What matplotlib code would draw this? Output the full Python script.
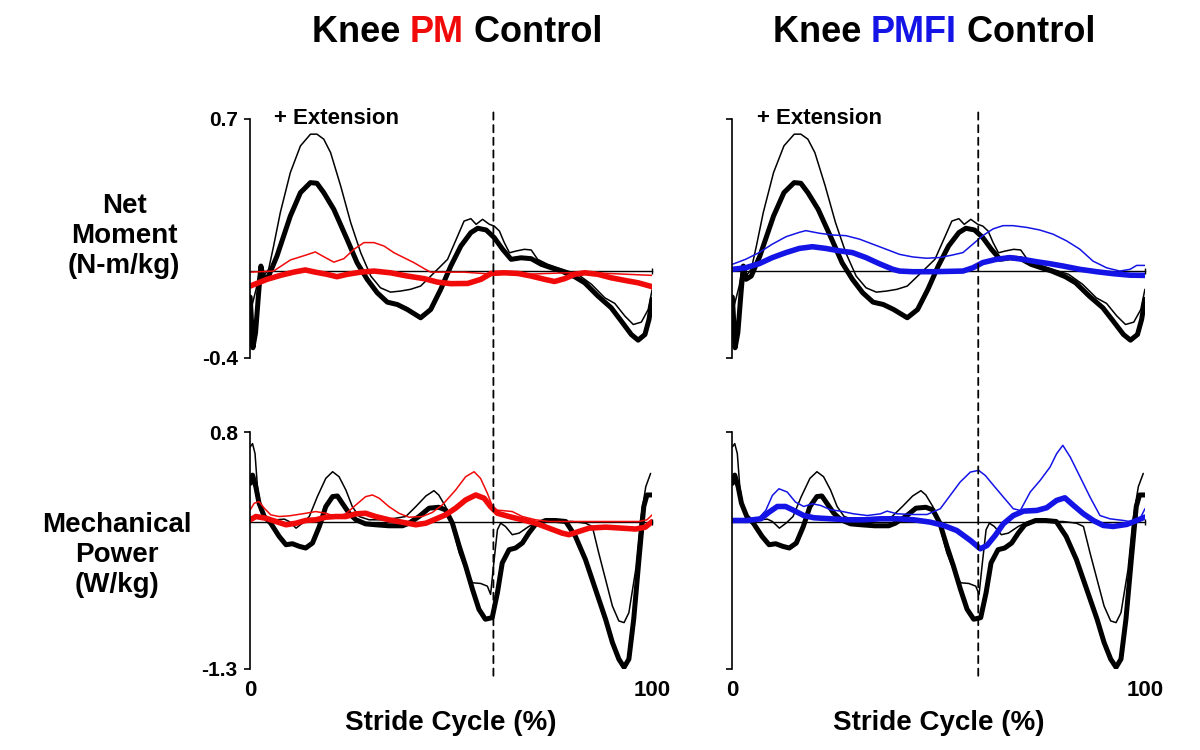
import matplotlib
matplotlib.use("Agg")
import matplotlib.pyplot as plt
from matplotlib.patches import ConnectionPatch

plt.rcParams['font.family'] = ['Liberation Sans', 'DejaVu Sans']
plt.rcParams['font.weight'] = 'bold'
plt.rcParams['lines.solid_joinstyle'] = 'round'
plt.rcParams['lines.solid_capstyle'] = 'round'

# ---- data ----
# control, net moment (N-m/kg), thick and thin traces
ctrl_mom_thick_x = [0, 0.17, 0.67, 1.33, 2.1, 2.66, 3.33, 4.58, 6.66, 9.98, 12.5, 14.98, 16.6, 18.3, 20.8,
                    24.1, 26.6, 29.1, 31.6, 34.1, 36.6, 39.1, 42.4, 44.9, 47.4, 49.9, 52.4, 54.9, 56.6, 58.7,
                    60.7, 62.8, 64.9, 67.4, 69.9, 72.4, 74.9, 77.4, 80.7, 83.2, 86.5, 89.8, 92.3, 94.8, 96.5,
                    98.2, 99.2, 100]
ctrl_mom_thick_y = [-0.12, -0.177, -0.353, -0.284, -0.10, 0.023, -0.038, -0.023, 0.069, 0.253, 0.361, 0.407,
                    0.404, 0.361, 0.284, 0.146, 0.038, -0.038, -0.10, -0.143, -0.154, -0.177, -0.215, -0.177,
                    -0.084, 0.023, 0.115, 0.177, 0.197, 0.189, 0.154, 0.10, 0.054, 0.061, 0.057, 0.031, 0.015,
                    0.0, -0.026, -0.054, -0.115, -0.169, -0.230, -0.292, -0.318, -0.292, -0.223, -0.13]
ctrl_mom_thin_x = [0, 0.42, 1.66, 2.5, 3.33, 4.58, 5.82, 7.49, 9.98, 12.5, 15.0, 16.6, 18.3, 20.0, 22.5, 25.0,
                   27.5, 30.0, 32.4, 34.9, 37.4, 39.9, 42.4, 44.1, 46.6, 49.1, 51.6, 53.2, 54.9, 56.2, 57.8,
                   59.5, 60.7, 62.0, 63.2, 64.5, 66.1, 68.2, 69.9, 71.5, 74.0, 76.5, 79.0, 81.5, 84.9, 88.2,
                   90.7, 93.2, 95.3, 97.3, 99.0, 100]
ctrl_mom_thin_y = [-0.12, -0.161, -0.069, 0.023, -0.023, 0.008, 0.115, 0.269, 0.453, 0.576, 0.630, 0.630,
                   0.607, 0.545, 0.392, 0.223, 0.084, -0.023, -0.077, -0.097, -0.092, -0.084, -0.069, -0.038,
                   0.008, 0.054, 0.161, 0.230, 0.241, 0.215, 0.238, 0.215, 0.207, 0.184, 0.131, 0.084, 0.092,
                   0.10, 0.097, 0.054, 0.031, 0.015, 0.0, -0.015, -0.061, -0.123, -0.149, -0.207, -0.246,
                   -0.235, -0.177, -0.084]

# PM, net moment
pm_mom_thick_x = [0, 4.2, 7.5, 10.8, 13.7, 16.2, 19.1, 21.6, 24.1, 27.5, 30.8, 34.9, 39.1, 43.3, 46.6, 49.9,
                  54.1, 57.4, 59.9, 63.2, 66.6, 69.9, 73.2, 75.7, 78.2, 80.7, 83.2, 86.5, 89.8, 93.2, 96.5, 100]
pm_mom_thick_y = [-0.069, -0.038, -0.02, -0.005, 0.005, -0.005, -0.015, -0.026, -0.015, -0.005, 0.0, -0.008,
                  -0.023, -0.035, -0.051, -0.058, -0.057, -0.038, -0.011, -0.008, -0.011, -0.023, -0.038,
                  -0.048, -0.035, -0.015, -0.008, -0.015, -0.031, -0.043, -0.054, -0.072]
pm_mom_thin_x = [0, 5.8, 10.0, 14.1, 16.2, 18.3, 20.8, 23.3, 25.8, 28.3, 30.8, 33.3, 35.8, 38.3, 40.8, 43.3,
                 44.9, 53.2, 59.9, 68.2, 83.2, 89.0, 100]
pm_mom_thin_y = [-0.005, 0.0, 0.051, 0.075, 0.088, 0.066, 0.041, 0.057, 0.10, 0.131, 0.131, 0.115, 0.084,
                 0.061, 0.038, 0.011, -0.005, -0.005, -0.014, -0.015, -0.005, -0.011, -0.02]

# PMFI, net moment
pmfi_mom_thick_x = [0, 3.2, 6.5, 9.7, 13.0, 16.2, 19.4, 22.7, 25.9, 29.1, 32.4, 35.6, 38.9, 40.5, 43.7, 48.6,
                    55.9, 58.3, 60.7, 64.0, 67.2, 70.4, 73.7, 76.9, 80.2, 84.2, 88.3, 92.3, 96.4, 100]
pmfi_mom_thick_y = [0.008, 0.015, 0.034, 0.062, 0.085, 0.104, 0.112, 0.104, 0.093, 0.085, 0.062, 0.034, 0.008,
                    0.0, -0.003, -0.003, 0.0, 0.015, 0.039, 0.054, 0.062, 0.054, 0.043, 0.034, 0.023, 0.008,
                    -0.003, -0.012, -0.019, -0.020]
pmfi_mom_thin_x = [0, 3.2, 6.5, 9.7, 13.0, 16.2, 17.8, 21.1, 24.3, 27.5, 30.8, 34.0, 37.2, 40.5, 43.7, 47.0,
                   50.2, 53.4, 55.9, 58.3, 60.7, 63.2, 65.6, 68.0, 71.3, 74.5, 77.7, 81.0, 84.2, 87.4, 90.7,
                   93.9, 96.4, 98.0, 100]
pmfi_mom_thin_y = [0.031, 0.054, 0.085, 0.124, 0.158, 0.178, 0.186, 0.174, 0.166, 0.163, 0.147, 0.124, 0.101,
                   0.077, 0.065, 0.059, 0.062, 0.074, 0.085, 0.124, 0.163, 0.194, 0.209, 0.209, 0.201, 0.189,
                   0.170, 0.139, 0.101, 0.046, 0.015, 0.0, 0.008, 0.026, 0.026]

# control, mechanical power (W/kg)
ctrl_pow_thick_x = [0, 0.58, 1.4, 2.2, 3.5, 5.1, 7.2, 8.9, 10.5, 12.2, 13.8, 15.5, 17.2, 18.8, 20.5, 21.7,
                    22.9, 24.6, 26.3, 28.7, 31.2, 34.5, 37.9, 39.5, 42.0, 44.5, 46.9, 48.6, 50.3, 52.0, 53.6,
                    55.3, 56.9, 58.5, 60.2, 61.5, 62.7, 64.4, 66.0, 67.7, 69.3, 70.9, 73.5, 75.9, 78.5, 80.9,
                    83.4, 85.9, 88.4, 90.1, 91.7, 93.0, 94.2, 95.4, 96.7, 97.9, 98.7, 100]
ctrl_pow_thick_y = [0.345, 0.418, 0.315, 0.169, 0.051, -0.008, -0.125, -0.199, -0.190, -0.213, -0.228, -0.184,
                    -0.037, 0.139, 0.228, 0.233, 0.169, 0.080, 0.022, -0.014, -0.022, -0.031, -0.031, -0.008,
                    0.051, 0.125, 0.133, 0.110, -0.008, -0.213, -0.389, -0.595, -0.771, -0.859, -0.845, -0.624,
                    -0.360, -0.243, -0.228, -0.184, -0.096, -0.022, 0.016, 0.016, 0.007, -0.125, -0.331,
                    -0.595, -0.859, -1.065, -1.212, -1.285, -1.212, -0.859, -0.331, 0.139, 0.242, 0.242]
ctrl_pow_thin_x = [0, 0.58, 1.2, 1.8, 2.7, 4.3, 6.4, 8.5, 9.7, 11.4, 13.0, 14.7, 16.7, 18.8, 20.5, 22.1, 23.8,
                   25.4, 27.1, 29.6, 32.9, 36.2, 38.7, 41.2, 43.7, 45.7, 46.9, 48.6, 50.3, 52.0, 53.6, 55.3,
                   57.3, 59.0, 59.8, 60.6, 61.5, 62.3, 63.5, 65.2, 66.9, 69.3, 71.8, 76.0, 80.1, 83.4, 85.1,
                   86.7, 88.4, 90.1, 91.7, 93.0, 94.2, 95.9, 97.1, 98.4, 99.6]
ctrl_pow_thin_y = [0.668, 0.697, 0.609, 0.315, 0.110, 0.022, 0.022, 0.028, 0.007, -0.052, -0.008, 0.051, 0.227,
                   0.389, 0.448, 0.404, 0.286, 0.139, 0.051, 0.022, 0.022, 0.036, 0.051, 0.139, 0.233, 0.280,
                   0.242, 0.139, -0.037, -0.272, -0.419, -0.536, -0.542, -0.566, -0.639, -0.360, -0.066,
                   -0.008, -0.037, -0.110, -0.096, -0.037, 0.007, 0.007, 0.007, -0.008, -0.037, -0.272,
                   -0.507, -0.742, -0.874, -0.889, -0.801, -0.419, 0.022, 0.315, 0.433]

# PM, mechanical power
pm_pow_thick_x = [0, 1.4, 3.9, 6.4, 8.9, 11.4, 13.8, 16.3, 18.8, 21.3, 23.8, 26.3, 28.7, 31.2, 34.5, 37.9,
                  41.2, 43.7, 46.1, 48.6, 51.1, 53.6, 56.1, 58.2, 59.8, 61.5, 64.4, 67.7, 71.0, 74.3, 77.6,
                  79.3, 81.8, 84.3, 88.4, 92.5, 95.9, 98.3, 100]
pm_pow_thick_y = [0.022, 0.051, 0.036, 0.007, -0.022, -0.008, 0.016, 0.022, 0.045, 0.051, 0.051, 0.075, 0.080,
                  0.051, 0.022, 0.0, -0.022, -0.008, 0.028, 0.066, 0.125, 0.198, 0.242, 0.213, 0.139, 0.080,
                  0.051, 0.022, -0.008, -0.052, -0.096, -0.110, -0.081, -0.052, -0.043, -0.052, -0.060,
                  -0.043, 0.007]
pm_pow_thin_x = [0, 1.0, 2.2, 3.5, 5.1, 7.2, 9.7, 13.0, 16.3, 18.8, 21.3, 23.8, 26.3, 28.7, 30.4, 32.1, 34.5,
                 37.0, 39.5, 42.8, 45.3, 47.8, 51.1, 53.6, 55.7, 57.3, 59.0, 60.6, 62.7, 65.2, 67.7, 71.0,
                 74.3, 80.1, 88.4, 96.7, 98.7, 100]
pm_pow_thin_y = [0.110, 0.169, 0.183, 0.125, 0.066, 0.051, 0.057, 0.075, 0.095, 0.080, 0.051, 0.075, 0.154,
                 0.227, 0.242, 0.213, 0.139, 0.080, 0.045, 0.051, 0.087, 0.154, 0.286, 0.404, 0.448, 0.389,
                 0.257, 0.110, 0.104, 0.095, 0.051, 0.022, 0.007, 0.007, 0.007, 0.007, 0.022, 0.066]

# PMFI, mechanical power
pmfi_pow_thick_x = [0, 3.6, 6.9, 8.9, 10.9, 12.9, 14.9, 17.3, 19.8, 23.8, 27.8, 31.9, 35.9, 39.9, 44.0, 48.0,
                    51.2, 54.4, 57.7, 60.1, 61.7, 63.7, 65.7, 68.1, 70.6, 73.8, 76.2, 78.6, 80.6, 82.7, 85.1,
                    87.5, 89.9, 92.3, 95.6, 98.0, 100]
pmfi_pow_thick_y = [0.016, 0.016, 0.031, 0.090, 0.140, 0.140, 0.105, 0.060, 0.040, 0.031, 0.022, 0.022, 0.031,
                    0.031, 0.022, 0.001, -0.028, -0.073, -0.161, -0.235, -0.206, -0.117, -0.013, 0.060, 0.099,
                    0.105, 0.129, 0.194, 0.217, 0.149, 0.075, 0.016, -0.028, -0.037, -0.019, 0.016, 0.046]
pmfi_pow_thin_x = [0, 3.6, 6.0, 8.1, 9.7, 11.3, 13.3, 15.3, 17.3, 19.4, 21.4, 23.8, 26.2, 29.4, 32.7, 35.9,
                   37.5, 39.9, 44.0, 47.2, 50.4, 52.8, 55.2, 57.7, 59.7, 61.3, 63.3, 65.7, 68.1, 69.8, 72.2,
                   74.6, 77.0, 78.6, 80.1, 81.9, 84.3, 86.7, 89.1, 91.5, 94.8, 97.2, 98.8, 100]
pmfi_pow_thin_y = [0.016, 0.016, 0.022, 0.105, 0.238, 0.297, 0.268, 0.179, 0.140, 0.164, 0.149, 0.111, 0.099,
                   0.075, 0.060, 0.075, 0.099, 0.075, 0.069, 0.069, 0.120, 0.238, 0.356, 0.445, 0.460, 0.415,
                   0.327, 0.223, 0.120, 0.105, 0.268, 0.371, 0.489, 0.608, 0.682, 0.578, 0.401, 0.223, 0.060,
                   0.031, 0.016, 0.001, 0.031, 0.120]

toe_off = [60.5, 59.6]          # dashed line position, left / right column
mom_lim = [-0.4, 0.7]
pow_lim = [-1.3, 0.8]
mom_ticks = ['-0.4', '0.7']
pow_ticks = ['-1.3', '0.8']

RED = '#f00a0a'
BLUE = '#1414e6'

fig = plt.figure(figsize=(12, 7.5), dpi=100)

col_left = [0.2085, 0.6103]
col_w = [0.335, 0.3438]
row_bot = [0.5227, 0.108]
row_h = [0.3187, 0.316]

axes = {}
for r in range(2):
    for c in range(2):
        axes[r, c] = fig.add_axes([col_left[c], row_bot[r], col_w[c], row_h[r]])

groups = [
    (RED, pm_mom_thick_x, pm_mom_thick_y, pm_mom_thin_x, pm_mom_thin_y,
     pm_pow_thick_x, pm_pow_thick_y, pm_pow_thin_x, pm_pow_thin_y),
    (BLUE, pmfi_mom_thick_x, pmfi_mom_thick_y, pmfi_mom_thin_x, pmfi_mom_thin_y,
     pmfi_pow_thick_x, pmfi_pow_thick_y, pmfi_pow_thin_x, pmfi_pow_thin_y),
]

for c, (col, mtx, mty, mnx, mny, ptx, pty, pnx, pny) in enumerate(groups):
    ax = axes[0, c]
    ax.plot(ctrl_mom_thin_x, ctrl_mom_thin_y, color='black', lw=1.1)
    ax.plot(ctrl_mom_thick_x, ctrl_mom_thick_y, color='black', lw=3.6)
    ax.plot(mnx, mny, color=col, lw=1.1)
    ax.plot(mtx, mty, color=col, lw=4.0)
    ax.set_ylim(mom_lim)

    ax = axes[1, c]
    ax.plot(ctrl_pow_thin_x, ctrl_pow_thin_y, color='black', lw=1.1)
    ax.plot(ctrl_pow_thick_x, ctrl_pow_thick_y, color='black', lw=3.6)
    ax.plot(pnx, pny, color=col, lw=1.1)
    ax.plot(ptx, pty, color=col, lw=4.0)
    ax.set_ylim(pow_lim)

for (r, c), ax in axes.items():
    ax.set_xlim(0, 100)
    ax.patch.set_visible(False)
    for s in ['top', 'right']:
        ax.spines[s].set_visible(False)
    ax.spines['bottom'].set_position(('data', 0))
    ax.spines['bottom'].set_linewidth(1.0)
    ax.spines['left'].set_linewidth(1.2)
    ax.spines['bottom'].set_zorder(1)
    ax.set_xticks([100])
    ax.tick_params(axis='x', direction='inout', length=5, width=1.0, labelbottom=False)
    lims = mom_lim if r == 0 else pow_lim
    labs = mom_ticks if r == 0 else pow_ticks
    ax.set_yticks(lims)
    ax.set_yticklabels(labs if c == 0 else ['', ''])
    ax.tick_params(axis='y', direction='out', length=4, width=1.2, pad=5, labelsize=15)
    for t in ax.get_yticklabels():
        t.set_fontweight('bold')

# dashed toe-off line through both rows
for c in range(2):
    con = ConnectionPatch(xyA=(toe_off[c], 0.73), coordsA=axes[0, c].transData,
                          xyB=(toe_off[c], -1.38), coordsB=axes[1, c].transData,
                          color='black', lw=1.3, linestyle=(0, (4, 3)))
    fig.add_artist(con)

# text
for c in range(2):
    axes[0, c].text(6, 0.70, '+ Extension', fontsize=16, fontweight='bold', va='center', ha='left')
    ax = axes[1, c]
    tr = ax.get_xaxis_transform()
    ax.text(0, -0.092, '0', transform=tr, fontsize=16, fontweight='bold', ha='center', va='center')
    ax.text(100, -0.092, '100', transform=tr, fontsize=16, fontweight='bold', ha='center', va='center')
    ax.text(50, -0.228, 'Stride Cycle (%)', transform=tr, fontsize=20, fontweight='bold',
            ha='center', va='center')

fig.text(124 / 1200, 1 - 236 / 750, 'Net\nMoment\n(N-m/kg)', fontsize=20, fontweight='bold',
         ha='center', va='center', linespacing=1.18)
fig.text(117 / 1200, 1 - 555 / 750, 'Mechanical\nPower\n(W/kg)', fontsize=20, fontweight='bold',
         ha='center', va='center', linespacing=1.18)


def colored_title(xc, yc, parts, size):
    renderer = fig.canvas.get_renderer()
    W = fig.bbox.width
    texts = [fig.text(0, yc, s, color=col, fontsize=size, fontweight='bold', va='center', ha='left')
             for s, col in parts]
    widths = [t.get_window_extent(renderer).width for t in texts]
    x = xc * W - sum(widths) / 2
    for t, w in zip(texts, widths):
        t.set_x(x / W)
        x += w


colored_title(457 / 1200, 1 - 32 / 750, [('Knee ', 'black'), ('PM', RED), (' Control', 'black')], 26)
colored_title(934 / 1200, 1 - 32 / 750, [('Knee ', 'black'), ('PMFI', BLUE), (' Control', 'black')], 26)

fig.savefig('out.png', dpi=100)
